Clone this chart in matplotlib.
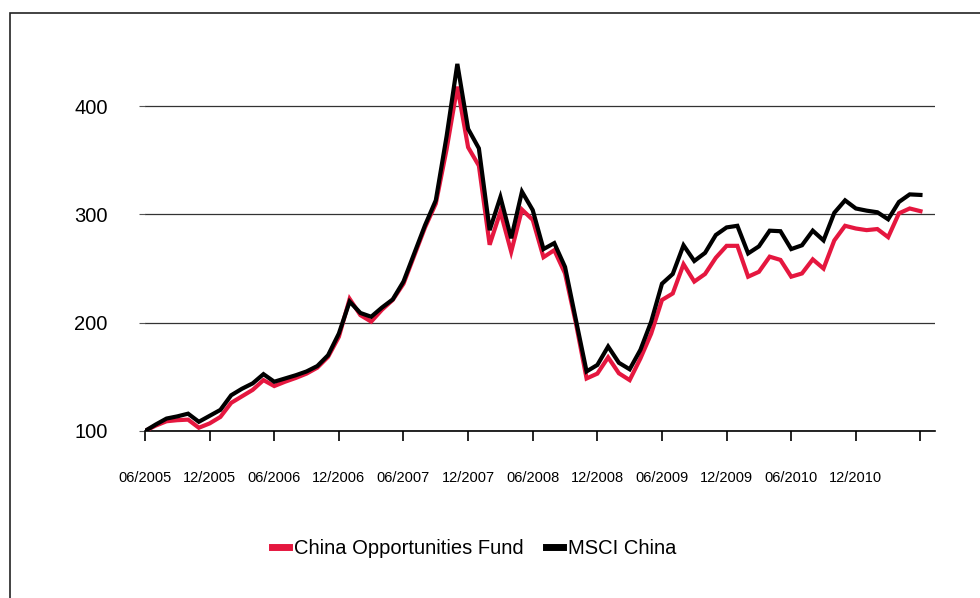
import matplotlib
matplotlib.use("Agg")
import matplotlib.pyplot as plt
from matplotlib.patches import Rectangle

plt.rcParams['font.family'] = ['Liberation Sans', 'DejaVu Sans']

fund = [100, 105, 109, 110, 110.5, 103, 107, 113, 126, 132, 138, 147, 141.5,
        145.5, 149, 153, 158.5, 168.5, 187, 222, 207, 201, 212, 221, 236, 262,
        288, 310, 360, 418, 362, 345, 272, 302.5, 265.5, 304.5, 295, 260.5,
        267, 245.5, 200, 148.5, 153, 168, 153.3, 147, 167, 190, 221, 227, 254,
        238, 245, 260, 271, 271, 242.5, 247, 261, 258, 242.5, 245.5, 258.5,
        250, 276, 289.5, 287, 285.5, 286.5, 279, 301, 305.5, 303]
msci = [100, 106, 111.5, 113.5, 116, 108.5, 114, 119.5, 133, 139, 144, 152.5,
        145.5, 148.5, 151.5, 155, 160, 170, 190, 219.5, 209, 205.5, 214, 221.5,
        238, 264, 290, 313, 372, 439, 379, 361, 285.5, 316, 278, 321, 304, 268,
        273.5, 251.5, 203, 155, 161, 178, 163, 157, 175, 201, 236, 245, 271.5,
        257, 264.5, 281, 288, 289.5, 264, 270.5, 285, 284.5, 268, 271.5, 285,
        276, 301.5, 313, 305.5, 303.5, 302, 295.5, 311.5, 318.5, 318]
tick_labels = ['06/2005', '12/2005', '06/2006', '12/2006', '06/2007', '12/2007',
               '06/2008', '12/2008', '06/2009', '12/2009', '06/2010', '12/2010', '']
y_ticks = [100, 200, 300, 400]
series_names = ['China Opportunities Fund', 'MSCI China']

W, H = 980, 598
fig = plt.figure(figsize=(W / 100, H / 100), dpi=100)
fig.patch.set_facecolor('white')

# outer frame
fig.patches.append(Rectangle((10 / W, -0.1), 1.2, 1.1 - 13 / H,
                             transform=fig.transFigure, fill=False,
                             edgecolor='#222222', linewidth=1.2))

ax = fig.add_axes([145 / W, (H - 431) / H, (935 - 145) / W, (431 - 52) / H])
x = list(range(len(fund)))
ax.plot(x, fund, color='#E5173F', lw=3.0, solid_joinstyle='miter',
        label=series_names[0], zorder=3)
ax.plot(x, msci, color='#000000', lw=3.0, solid_joinstyle='miter',
        label=series_names[1], zorder=4)

ax.set_xlim(0, 73.35)
ax.set_ylim(100, 450)
ax.set_yticks(y_ticks)
ax.set_yticklabels([str(v) for v in y_ticks], fontsize=14.5)
ax.set_xticks(list(range(0, 73, 6)))
ax.set_xticklabels(tick_labels, fontsize=10.5)

ax.grid(axis='y', color='#333333', lw=0.9)
ax.set_axisbelow(True)
for s in ['top', 'right', 'left']:
    ax.spines[s].set_visible(False)
ax.spines['bottom'].set_color('black')
ax.spines['bottom'].set_linewidth(1.2)
ax.tick_params(axis='y', length=4, color='#555555', pad=23)
ax.tick_params(axis='x', length=7, width=1.2, color='black', pad=22)

leg = fig.legend(loc='center', bbox_to_anchor=(474 / W, 1 - 549 / H), ncol=2,
                 frameon=False, fontsize=14.5, handlelength=0.85,
                 handletextpad=0.25, columnspacing=1.1)
for line in leg.get_lines():
    line.set_linewidth(5)

fig.savefig('out.png', dpi=100, facecolor='white')
